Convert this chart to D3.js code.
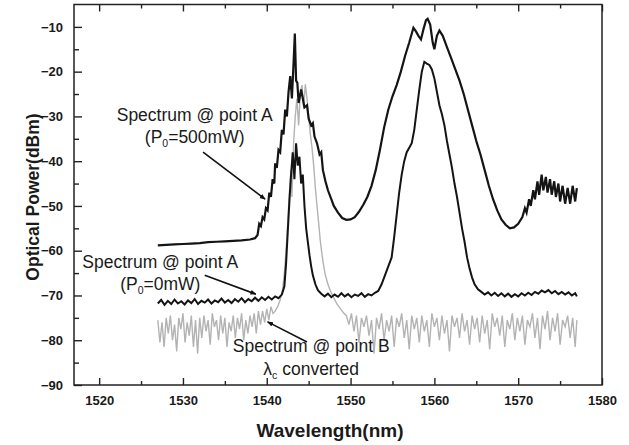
<!doctype html>
<html>
<head>
<meta charset="utf-8"/>
<title>Optical spectra</title>
<script src="https://cdnjs.cloudflare.com/ajax/libs/d3/7.8.5/d3.min.js"></script>
<style>
  body { margin: 0; background: #fff; }
  svg { display: block; font-family: "Liberation Sans", Arial, sans-serif; }
  .tick text { font-weight: bold; font-size: 13px; fill: #1a1a1a; }
  .tick line { stroke: #222; stroke-width: 1.4; }
  .note { font-size: 17.5px; fill: #1a1a1a; }
</style>
</head>
<body>
<svg width="629" height="445"></svg>
<script>
// axis ticks
var xTicks = [1520, 1530, 1540, 1550, 1560, 1570, 1580];
var xMinor = [1525, 1535, 1545, 1555, 1565, 1575];
var yTicks = [-90, -80, -70, -60, -50, -40, -30, -20, -10];
var yMinor = [-85, -75, -65, -55, -45, -35, -25, -15];

// spectrum @ point A, P0 = 500 mW  [wavelength nm, power dBm]
var specA500 = [
  [1527,-58.8],[1528,-58.7],[1529,-58.6],[1530,-58.5],[1531,-58.4],[1532,-58.3],[1533,-58.1],
  [1534,-58.0],[1535,-57.9],[1536,-57.8],[1537,-57.7],[1538,-57.5],[1538.6,-57.2],[1538.9,-56.5],
  [1539.1,-54.0],[1539.3,-54.5],[1539.5,-52.5],[1539.7,-53.0],[1539.9,-50.5],[1540.1,-51.0],
  [1540.3,-47.0],[1540.5,-48.0],[1540.7,-44.0],[1540.9,-45.0],[1541.0,-40.5],[1541.2,-41.5],
  [1541.4,-37.5],[1541.6,-38.0],[1541.8,-33.0],[1542.0,-34.0],[1542.2,-28.5],[1542.4,-30.0],
  [1542.6,-24.5],[1542.8,-21.0],[1543.0,-26.0],[1543.2,-18.0],[1543.35,-11.5],[1543.5,-22.0],
  [1543.65,-22.5],[1543.8,-27.0],[1544.1,-24.0],[1544.5,-28.0],[1544.8,-27.5],[1545.0,-30.5],
  [1545.3,-32.0],[1545.5,-31.5],[1545.7,-34.5],[1546.0,-36.0],[1546.3,-38.5],[1546.5,-38.0],
  [1546.7,-42.0],[1547.0,-44.5],[1547.3,-46.5],[1547.7,-48.5],[1548.0,-50.0],[1548.5,-51.5],
  [1549.0,-52.7],[1549.5,-53.1],[1550.0,-53.0],[1550.5,-52.5],[1551.0,-51.3],[1551.5,-49.8],
  [1552.0,-48.0],[1552.5,-45.5],[1553.0,-42.0],[1553.5,-37.5],[1554.0,-32.5],[1554.5,-28.5],
  [1555.0,-25.5],[1555.5,-23.0],[1556.0,-20.0],[1556.5,-16.5],[1557.0,-13.5],[1557.5,-10.2],
  [1557.8,-11.0],[1558.1,-12.0],[1558.4,-12.8],[1558.7,-10.5],[1559.0,-8.5],[1559.2,-8.2],
  [1559.5,-9.5],[1559.8,-13.5],[1560.0,-15.0],[1560.3,-12.0],[1560.6,-10.8],[1561.0,-12.0],
  [1561.5,-14.5],[1562.0,-17.0],[1562.5,-19.5],[1563.0,-22.0],[1563.5,-25.0],[1564.0,-28.5],
  [1564.5,-32.0],[1565.0,-35.5],[1565.5,-38.5],[1566.0,-42.0],[1566.5,-45.5],[1567.0,-48.5],
  [1567.5,-51.0],[1568.0,-53.0],[1568.5,-54.2],[1569.0,-55.0],[1569.5,-54.8],[1570.0,-54.0],
  [1570.5,-52.5],[1570.8,-50.5],[1571.0,-51.5],[1571.3,-48.5],[1571.5,-50.0],[1571.8,-46.5],
  [1572.0,-48.5],[1572.3,-44.5],[1572.5,-47.5],[1572.8,-43.0],[1573.0,-46.5],[1573.3,-43.5],
  [1573.5,-47.0],[1573.8,-44.0],[1574.0,-47.5],[1574.3,-44.5],[1574.5,-48.0],[1574.8,-45.0],
  [1575.0,-49.0],[1575.3,-45.5],[1575.6,-49.5],[1575.9,-46.0],[1576.2,-49.5],[1576.5,-45.5],
  [1576.8,-49.0],[1577.0,-46.0]
];

// spectrum @ point A, P0 = 0 mW
var specA0 = [
  [1527.0,-71.8],[1527.4,-71.0],[1527.8,-72.1],[1528.2,-71.2],[1528.6,-71.9],[1529.0,-70.9],
  [1529.4,-71.8],[1529.8,-71.3],[1530.2,-72.0],[1530.6,-71.1],[1531.0,-71.7],[1531.4,-70.8],
  [1531.8,-71.9],[1532.2,-71.2],[1532.6,-71.6],[1533.0,-70.9],[1533.4,-71.8],[1533.8,-71.1],
  [1534.2,-71.5],[1534.6,-70.7],[1535.0,-71.6],[1535.4,-71.0],[1535.8,-71.7],[1536.2,-70.8],
  [1536.6,-71.4],[1537.0,-70.6],[1537.4,-71.5],[1537.8,-70.8],[1538.2,-71.3],[1538.6,-70.5],
  [1539.0,-71.2],[1539.4,-70.4],[1539.8,-71.0],[1540.2,-70.3],[1540.6,-70.9],[1541.0,-70.2],
  [1541.4,-70.6],[1541.8,-69.8],[1542.1,-68.0],[1542.3,-63.0],[1542.5,-56.0],[1542.7,-49.0],
  [1542.9,-43.0],[1543.1,-38.0],[1543.3,-44.0],[1543.5,-36.0],[1543.7,-41.0],[1543.9,-39.0],
  [1544.1,-45.0],[1544.3,-43.0],[1544.5,-50.0],[1544.7,-55.0],[1544.9,-58.0],[1545.1,-61.0],
  [1545.3,-63.5],[1545.5,-65.5],[1545.8,-67.5],[1546.1,-68.8],[1546.5,-69.6],[1546.9,-70.2],
  [1547.3,-69.6],[1547.7,-70.4],[1548.1,-69.8],[1548.5,-70.3],[1548.9,-69.5],[1549.3,-70.2],
  [1549.7,-69.7],[1550.1,-70.4],[1550.5,-69.8],[1550.9,-70.1],[1551.3,-69.5],[1551.7,-70.3],
  [1552.1,-69.7],[1552.5,-70.0],[1552.9,-69.4],[1553.3,-69.0],[1553.7,-67.5],[1554.1,-65.5],
  [1554.5,-63.5],[1554.9,-61.5],[1555.2,-57.0],[1555.5,-52.0],[1555.8,-47.0],[1556.1,-43.0],
  [1556.4,-40.0],[1556.7,-38.0],[1557.0,-37.0],[1557.3,-36.0],[1557.6,-33.0],[1557.9,-28.5],
  [1558.2,-24.0],[1558.5,-20.0],[1558.8,-17.8],[1559.1,-18.2],[1559.4,-18.5],[1559.7,-19.5],
  [1560.0,-21.5],[1560.3,-24.5],[1560.6,-27.5],[1560.9,-29.5],[1561.2,-32.0],[1561.5,-35.5],
  [1561.8,-38.5],[1562.1,-41.5],[1562.4,-45.0],[1562.7,-48.0],[1563.0,-51.5],[1563.3,-55.0],
  [1563.6,-58.0],[1563.9,-61.5],[1564.2,-64.0],[1564.5,-66.0],[1564.8,-67.5],[1565.2,-68.6],
  [1565.6,-69.2],[1566.0,-69.8],[1566.4,-69.3],[1566.8,-70.0],[1567.2,-69.4],[1567.6,-70.1],
  [1568.0,-69.5],[1568.4,-70.2],[1568.8,-69.6],[1569.2,-70.3],[1569.6,-69.7],[1570.0,-70.2],
  [1570.4,-69.5],[1570.8,-70.0],[1571.2,-69.4],[1571.6,-69.9],[1572.0,-69.2],[1572.4,-69.6],
  [1572.8,-68.9],[1573.2,-69.3],[1573.6,-68.8],[1574.0,-69.5],[1574.4,-69.0],[1574.8,-69.7],
  [1575.2,-69.2],[1575.6,-69.8],[1576.0,-69.3],[1576.4,-70.0],[1576.8,-69.5],[1577.0,-70.2]
];

// spectrum @ point B (converted wavelength)
var specB = [
  [1527.00,-75.5],[1527.25,-80.5],[1527.50,-76.0],[1527.75,-81.5],[1528.00,-75.0],[1528.25,-78.5],
  [1528.50,-74.5],[1528.75,-80.0],[1529.00,-76.5],[1529.25,-82.5],[1529.50,-75.0],[1529.75,-77.5],
  [1530.00,-74.0],[1530.25,-80.5],[1530.50,-76.0],[1530.75,-79.0],[1531.00,-74.5],[1531.25,-81.5],
  [1531.50,-75.5],[1531.75,-83.0],[1532.00,-75.0],[1532.25,-79.5],[1532.50,-74.5],[1532.75,-78.0],
  [1533.00,-75.5],[1533.25,-81.0],[1533.50,-74.0],[1533.75,-77.0],[1534.00,-75.5],[1534.25,-80.0],
  [1534.50,-74.5],[1534.75,-78.5],[1535.00,-75.0],[1535.25,-81.5],[1535.50,-76.0],[1535.75,-78.0],
  [1536.00,-74.5],[1536.25,-79.5],[1536.50,-75.0],[1536.75,-77.5],[1537.00,-74.0],[1537.25,-80.0],
  [1537.50,-75.5],[1537.75,-78.5],[1538.00,-74.5],[1538.25,-77.0],[1538.50,-74.0],[1538.75,-78.5],
  [1539.00,-73.5],[1539.25,-76.5],[1539.50,-73.5],[1539.75,-76.0],[1540.00,-73.0],[1540.25,-75.5],
  [1540.50,-72.5],[1540.75,-74.0],[1541.0,-73.5],[1541.3,-72.5],[1541.6,-71.0],[1541.9,-68.5],
  [1542.1,-65.0],[1542.3,-60.0],[1542.5,-54.0],[1542.7,-47.0],[1542.9,-42.0],[1543.0,-48.0],
  [1543.2,-36.0],[1543.4,-30.0],[1543.6,-26.0],[1543.8,-32.0],[1544.0,-25.0],[1544.2,-23.0],
  [1544.4,-28.0],[1544.6,-22.8],[1544.8,-26.0],[1545.0,-30.0],[1545.2,-34.0],[1545.4,-37.0],
  [1545.6,-41.0],[1545.8,-46.0],[1546.0,-50.0],[1546.2,-54.0],[1546.4,-58.0],[1546.6,-61.0],
  [1546.8,-63.5],[1547.0,-65.5],[1547.3,-67.5],[1547.6,-69.0],[1548.0,-70.5],[1548.4,-72.0],
  [1548.8,-73.0],[1549.2,-74.0],[1549.5,-74.5],[1549.8,-76.5],[1550.1,-74.0],[1550.4,-78.0],
  [1550.7,-74.5],[1551.0,-80.5],[1551.3,-75.0],[1551.6,-77.0],[1551.9,-74.5],[1552.2,-79.0],
  [1552.5,-75.5],[1552.8,-83.0],[1553.1,-75.0],[1553.4,-77.5],[1553.7,-74.0],[1554.0,-80.0],
  [1554.3,-75.5],[1554.6,-78.0],[1554.9,-74.5],[1555.2,-81.5],[1555.5,-75.0],[1555.8,-77.0],
  [1556.1,-74.0],[1556.4,-79.5],[1556.7,-75.5],[1557.0,-82.0],[1557.3,-74.5],[1557.6,-77.5],
  [1557.9,-75.0],[1558.2,-80.5],[1558.5,-74.5],[1558.8,-78.0],[1559.1,-75.5],[1559.4,-81.5],
  [1559.7,-74.0],[1560.0,-77.0],[1560.3,-75.0],[1560.6,-80.0],[1560.9,-74.5],[1561.2,-78.5],
  [1561.5,-75.5],[1561.8,-82.5],[1562.1,-74.5],[1562.4,-77.0],[1562.7,-75.0],[1563.0,-79.5],
  [1563.3,-74.0],[1563.6,-78.0],[1563.9,-75.5],[1564.2,-81.0],[1564.5,-74.5],[1564.8,-77.5],
  [1565.1,-75.0],[1565.4,-80.5],[1565.7,-74.5],[1566.0,-78.5],[1566.3,-75.5],[1566.6,-82.0],
  [1566.9,-74.0],[1567.2,-77.0],[1567.5,-75.0],[1567.8,-79.0],[1568.1,-74.5],[1568.4,-81.5],
  [1568.7,-75.5],[1569.0,-77.5],[1569.3,-74.0],[1569.6,-80.0],[1569.9,-75.0],[1570.2,-78.0],
  [1570.5,-74.5],[1570.8,-81.0],[1571.1,-75.5],[1571.4,-77.0],[1571.7,-74.0],[1572.0,-79.5],
  [1572.3,-75.0],[1572.6,-82.0],[1572.9,-74.5],[1573.2,-77.5],[1573.5,-73.5],[1573.8,-80.0],
  [1574.1,-75.0],[1574.4,-78.0],[1574.7,-74.0],[1575.0,-81.0],[1575.3,-75.5],[1575.6,-77.0],
  [1575.9,-74.5],[1576.2,-79.5],[1576.5,-75.0],[1576.8,-81.5],[1577.0,-75.5]
];

// annotation text and arrows, in data units
var notes = [
  {lines: ["Spectrum @ point A", "(P|0|=500mW)"], at: [1531.4, -31.0], gap: -5.0},
  {lines: ["Spectrum @ point A", "(P|0|=0mW)"], at: [1527.3, -63.9], gap: -4.8},
  {lines: ["Spectrum @ point B", "λ|c| converted"], at: [1545.3, -82.7], gap: -5.1}
];
var arrows = [
  {from: [1532.4, -38.0], to: [1539.8, -48.5]},
  {from: [1532.6, -65.5], to: [1538.7, -69.7]},
  {from: [1544.8, -80.4], to: [1540.1, -75.9]}
];

var svg = d3.select("svg");

var xScale = d3.scaleLinear().domain([1517, 1580]).range([74, 602]);
var yScale = d3.scaleLinear().domain([-90, -5]).range([385, 4.5]);

var line = d3.line()
  .x(function (d) { return xScale(d[0]); })
  .y(function (d) { return yScale(d[1]); });

svg.append("defs").append("marker")
  .attr("id", "head")
  .attr("viewBox", "0 0 10 10")
  .attr("refX", 9).attr("refY", 5)
  .attr("markerWidth", 6).attr("markerHeight", 6)
  .attr("markerUnits", "userSpaceOnUse")
  .attr("orient", "auto")
  .append("path").attr("d", "M0,1 L10,5 L0,9 z").attr("fill", "#111");

// spectra
svg.append("path").attr("d", line(specB))
  .attr("fill", "none").attr("stroke", "#b3b3b3").attr("stroke-width", 1.4);
svg.append("path").attr("d", line(specA0))
  .attr("fill", "none").attr("stroke", "#141414").attr("stroke-width", 2);
svg.append("path").attr("d", line(specA500))
  .attr("fill", "none").attr("stroke", "#141414").attr("stroke-width", 2.2);

// axes, ticks pointing inward
function tidy(g) { g.select(".domain").remove(); }

svg.append("g").attr("transform", "translate(0,385)")
  .call(d3.axisBottom(xScale).tickValues(xTicks).tickSize(-7).tickPadding(11).tickFormat(d3.format("d")))
  .call(tidy);
svg.append("g").attr("transform", "translate(0,385)")
  .call(d3.axisBottom(xScale).tickValues(xMinor).tickSize(-4).tickFormat(""))
  .call(tidy);
svg.append("g").attr("transform", "translate(0,4.5)")
  .call(d3.axisTop(xScale).tickValues(xTicks).tickSize(-7).tickFormat(""))
  .call(tidy);
svg.append("g").attr("transform", "translate(0,4.5)")
  .call(d3.axisTop(xScale).tickValues(xMinor).tickSize(-4).tickFormat(""))
  .call(tidy);
svg.append("g").attr("transform", "translate(74,0)")
  .call(d3.axisLeft(yScale).tickValues(yTicks).tickSize(-8).tickPadding(11))
  .call(tidy);
svg.append("g").attr("transform", "translate(74,0)")
  .call(d3.axisLeft(yScale).tickValues(yMinor).tickSize(-5).tickFormat(""))
  .call(tidy);

svg.append("rect")
  .attr("x", xScale(1517)).attr("y", yScale(-5))
  .attr("width", xScale(1580) - xScale(1517))
  .attr("height", yScale(-90) - yScale(-5))
  .attr("fill", "none").attr("stroke", "#222").attr("stroke-width", 1.5);

// axis titles
svg.append("text")
  .attr("x", 330).attr("y", 437)
  .attr("text-anchor", "middle")
  .style("font-weight", "bold").style("font-size", "19px").style("fill", "#1a1a1a")
  .text("Wavelength(nm)");
svg.append("text")
  .attr("transform", "translate(39,197) rotate(-90)")
  .attr("text-anchor", "middle")
  .style("font-weight", "bold").style("font-size", "17.5px").style("fill", "#1a1a1a")
  .text("Optical Power(dBm)");

// annotations
notes.forEach(function (n) {
  n.lines.forEach(function (s, i) {
    var t = svg.append("text").attr("class", "note")
      .attr("x", xScale(n.at[0]))
      .attr("y", yScale(n.at[1] + i * n.gap))
      .attr("text-anchor", "middle");
    s.split("|").forEach(function (part, j) {
      var ts = t.append("tspan").text(part);
      if (j == 1) ts.attr("dy", 4).style("font-size", "10.5px");
      if (j == 2) ts.attr("dy", -4);
    });
  });
});

arrows.forEach(function (a) {
  svg.append("line")
    .attr("x1", xScale(a.from[0])).attr("y1", yScale(a.from[1]))
    .attr("x2", xScale(a.to[0])).attr("y2", yScale(a.to[1]))
    .attr("stroke", "#111").attr("stroke-width", 1.6)
    .attr("marker-end", "url(#head)");
});
</script>
</body>
</html>
